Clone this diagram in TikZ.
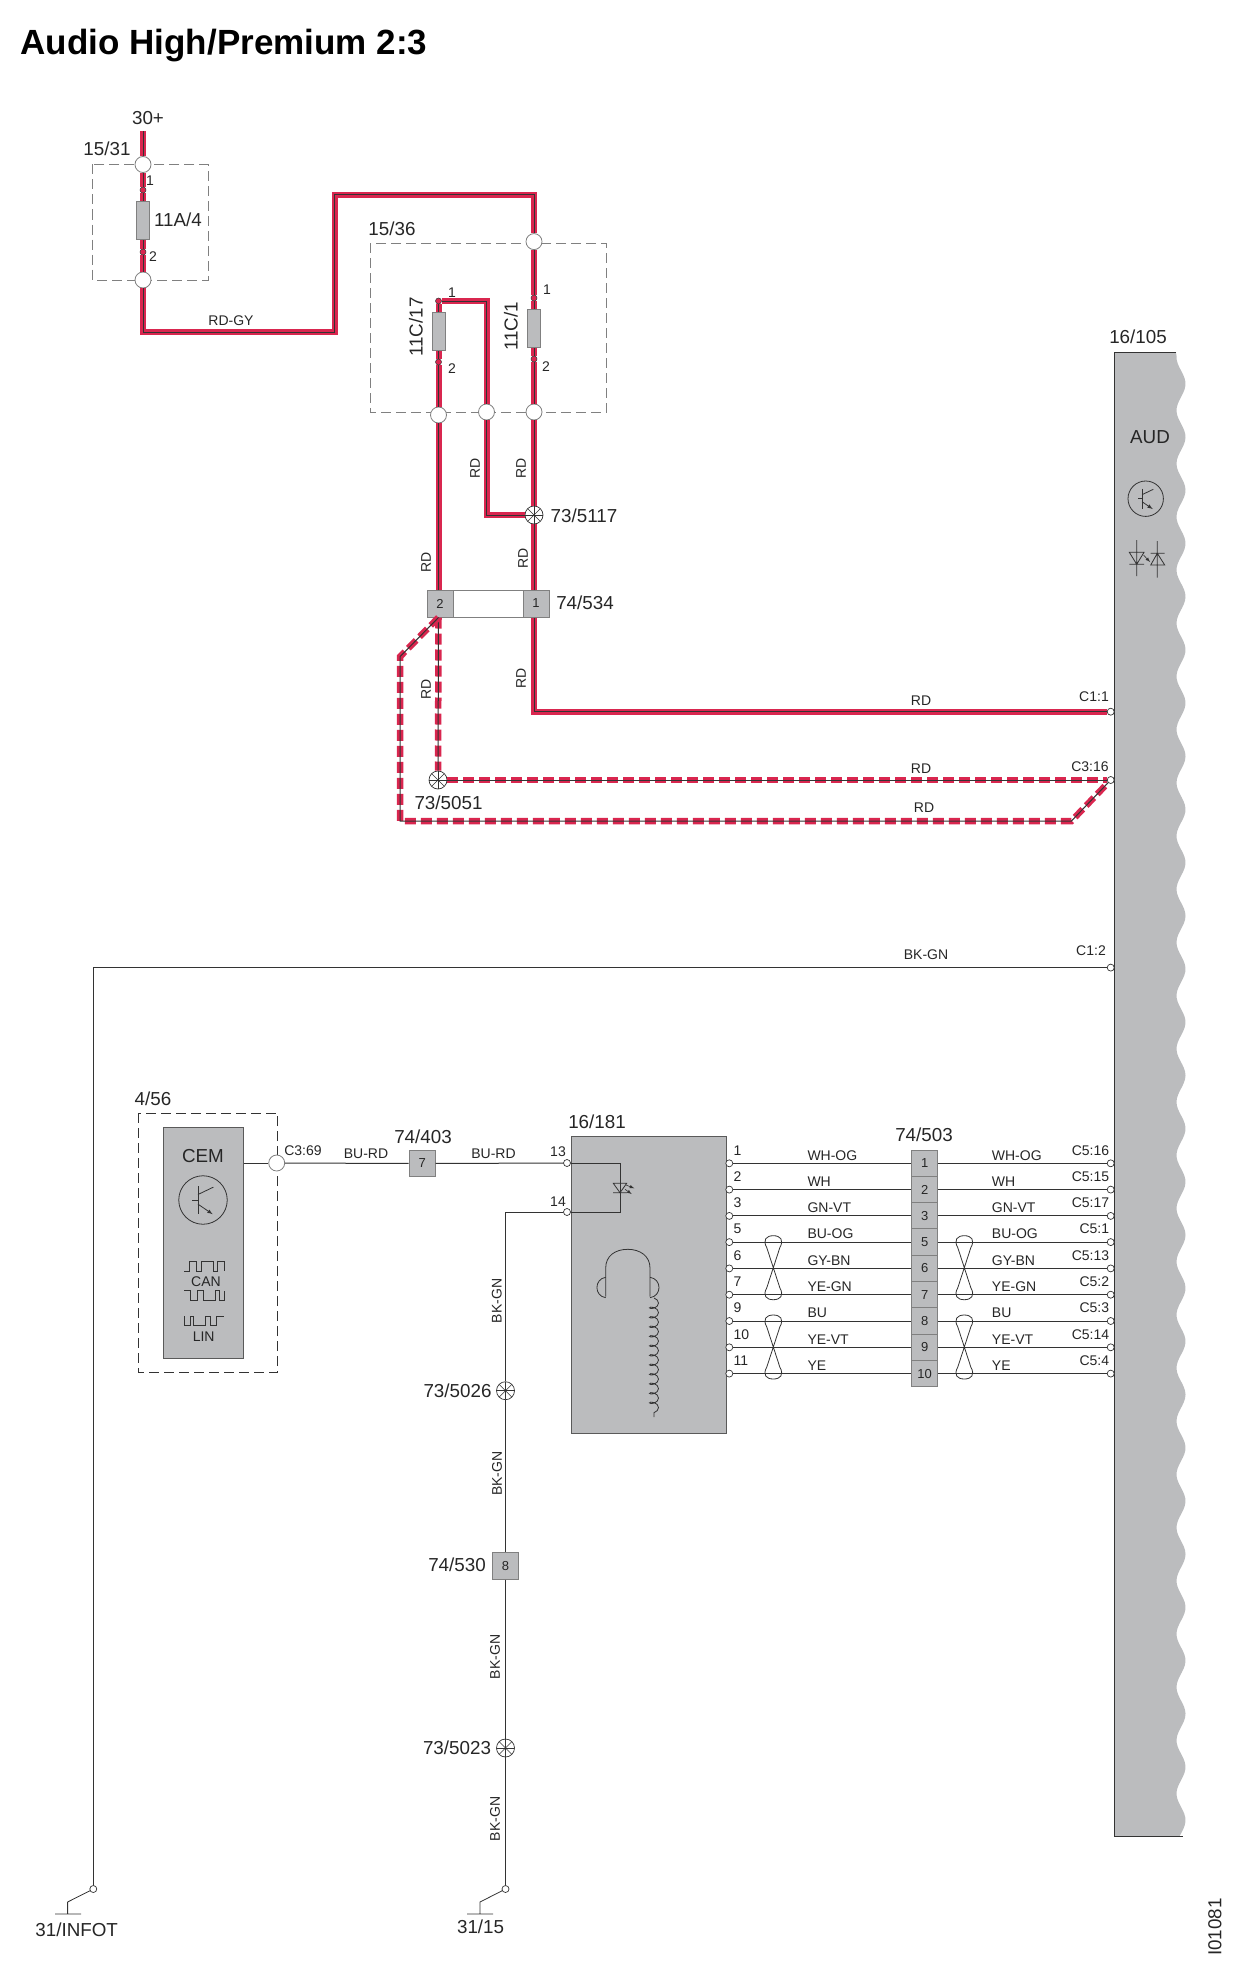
\documentclass[tikz,border=0pt]{standalone}
\usepackage{fontspec}
\usepackage{tikz}
\usetikzlibrary{decorations.pathmorphing}
\setmainfont{Liberation Sans}

\definecolor{wirered}{HTML}{D9264F}
\definecolor{wiredark}{HTML}{333333}
\definecolor{blockgray}{HTML}{BBBCBE}
\definecolor{framegray}{HTML}{808080}

\tikzset{
	lab/.style={font=\fontsize{14}{16}\selectfont, text=black!85, inner sep=0pt},
	biglab/.style={font=\fontsize{18.8}{20}\selectfont, text=black!85, inner sep=0pt},
	thinwire/.style={draw=wiredark, line width=1pt},
	symline/.style={draw=wiredark, line width=0.8pt},
	redwire/.style={draw=wiredark, line width=1pt, preaction={draw=wirered, line width=6pt}},
	reddash/.style={draw=wiredark, line width=1pt, preaction={draw=wirered, line width=6.5pt, dash pattern=on 11pt off 5pt}},
	portcirc/.style={circle, draw=framegray, fill=white, line width=0.8pt, minimum size=16pt, inner sep=0pt},
	termcirc/.style={circle, draw=wiredark, fill=white, line width=0.7pt, minimum size=7pt, inner sep=0pt},
	fusedot/.style={circle, draw=wiredark, fill=wirered, line width=0.5pt, minimum size=6pt, inner sep=0pt},
	fusebox/.style={draw=framegray, fill=blockgray, line width=0.8pt, minimum width=13pt, minimum height=38pt, inner sep=0pt},
	pinbox/.style={draw=framegray, fill=blockgray, line width=1pt, minimum width=26pt, minimum height=26.3pt, inner sep=0pt, font=\fontsize{13}{15}\selectfont, text=black!85},
	block/.style={draw=framegray!70!black, fill=blockgray, line width=1pt, inner sep=0pt},
	dashbox/.style={draw=framegray, line width=0.9pt, dash pattern=on 10pt off 5pt},
	splice/.style={circle, draw=wiredark, fill=white, line width=0.7pt, minimum size=18pt, inner sep=0pt,
		path picture={\foreach \ang in {0,45,90,135}{\draw[wiredark, line width=0.5pt] (path picture bounding box.center) ++(\ang:9pt) -- ++(\ang+180:18pt);}}},
	tranpic/.pic={
		\draw[symline] (0,0) circle [radius=17.7pt];
		\draw[symline] (-3.7,-10) -- (-3.7,10);
		\draw[symline] (-7.7,0) -- (-3.7,0);
		\draw[symline] (-3.7,-4) -- (7.6,-9.4);
		\draw[symline, -latex] (-3.7,3) -- (7,10.3);
	},
	twistpic/.pic={
		\draw[symline] (0,0) -- (-6.5,-20) .. controls (-11,-28) and (-7,-32) .. (0,-32) .. controls (7,-32) and (11,-28) .. (6.5,-20) -- (0,0) -- (-6.5,20) .. controls (-11,28) and (-7,32) .. (0,32) .. controls (7,32) and (11,28) .. (6.5,20) -- cycle;
	},
}

\begin{document}
\begin{tikzpicture}[x=1pt, y=-1pt]
	\useasboundingbox (0,0) rectangle (1242,1980);
	\node[anchor=base west, inner sep=0pt, font=\fontsize{35}{40}\selectfont\bfseries] (title) at (20.5,55) {Audio High/Premium 2:3};

	% module at the right edge
	\fill[blockgray] (1114.3,352.7) -- (1176,352.7) -- plot[domain=356:1836, samples=400] ({1181+4.5*cos(6.767*(\x-437))},\x) -- (1114.3,1836) -- cycle;
	\draw[thinwire] (1176,352.7) -- (1114.3,352.7) -- (1114.3,1836) -- (1183,1836);
	\node[biglab] (lb105) at (1138,337) {16/105};
	\node[biglab] (lbaud) at (1150,437) {AUD};
	\pic at (1145.7,498.7) {tranpic};
	\draw[symline] (1136.7,540) -- (1136.7,576) (1129.3,564.3) -- (1144,564.3) (1129.3,552.3) -- (1144,552.3) -- (1136.7,564.3) -- cycle;
	\draw[symline] (1157.3,541) -- (1157.3,577.7) (1150.7,553.3) -- (1164.7,553.3) (1150.7,565) -- (1164.7,565) -- (1157.3,553.3) -- cycle;
	\draw[symline, line width=0.6pt, ->, >=latex] (1143.5,555) -- (1150,562);

	% fuse boxes
	\draw[dashbox] (92.6,164.5) rectangle (208,280);
	\draw[dashbox] (370,243) rectangle (606.5,412);
	\node[biglab] (lb1531) at (107,149) {15/31};
	\node[biglab] (lb1536) at (392,228.6) {15/36};
	\node[biglab] (lb30) at (148,118) {30+};
	\node[biglab] (lbfa) at (178,219.6) {11A/4};
	\node[biglab, rotate=90] (lbfl) at (416,327) {11C/17};
	\node[biglab, rotate=90] (lbfr) at (511,326.5) {11C/1};
	\node[lab] (lbp1) at (150,181) {1};
	\node[lab] (lbp2) at (153,257) {2};
	\node[lab] (lbp3) at (452,293) {1};
	\node[lab] (lbp4) at (452,369) {2};
	\node[lab] (lbp5) at (547,290) {1};
	\node[lab] (lbp6) at (546,366.5) {2};

	\coordinate (vtop) at (143,131);
	\node[portcirc] (ca1) at (143,164.5) {};
	\node[portcirc] (ca2) at (143,280) {};
	\node[portcirc] (cb1) at (534,241.6) {};
	\node[portcirc] (cb2) at (534,412) {};
	\node[portcirc] (cb3) at (486.5,412) {};
	\node[portcirc] (cb4) at (438.5,415) {};
	\node[fusedot] (fda1) at (143,190) {};
	\node[fusedot] (fda2) at (143,252) {};
	\node[fusedot] (fdl1) at (438.5,301) {};
	\node[fusedot] (fdl2) at (438.5,362) {};
	\node[fusedot] (fdr1) at (534,298) {};
	\node[fusedot] (fdr2) at (534,359) {};
	\node[splice] (sp5117) at (534,515) {};
	\node[biglab, anchor=west] (lb5117) at (550.5,516) {73/5117};
	\draw[framegray, line width=1pt] (453,590) rectangle (523,617);
	\node[pinbox, minimum height=27pt] (pin2) at (440,603.5) {2};
	\node[pinbox, minimum height=27pt] (pin1) at (536,603.5) {1};
	\node[biglab] (lb534) at (585,603) {74/534};
	\node[termcirc] (tc11) at (1110.7,711.7) {};
	\node[termcirc] (tc316) at (1110.7,780) {};
	\node[termcirc] (tc12) at (1110.7,967.6) {};
	\node[splice] (sp5051) at (438,780) {};
	\node[biglab] (lb5051) at (448.5,803) {73/5051};

	\coordinate (kinka) at (334.6,332);
	\coordinate (kinkb) at (534,195);
	\coordinate (dasha) at (400,656.7);
	\coordinate (dashb) at (400,821);
	\coordinate (dashc) at (1071.4,821);

	\draw[redwire] (vtop) -- (ca1);
	\draw[redwire] (ca1) -- (fda1) -- (fda2) -- (ca2);
	\draw[redwire] (ca2) |- (kinka) |- (kinkb) -- (cb1);
	\draw[redwire] (cb1) -- (fdr1) -- (fdr2) -- (cb2);
	\draw[redwire] (cb2) -- (sp5117) -- (sp5117 |- pin1.north);
	\draw[redwire] (fdl1) -| (cb3);
	\draw[redwire] (cb3) |- (sp5117);
	\draw[redwire] (fdl1) -- (fdl2) -- (cb4) -- (cb4 |- pin2.north);
	\draw[redwire] (sp5117 |- pin1.south) |- (tc11);
	\draw[reddash] (cb4 |- pin2.south) -- (sp5051);
	\draw[reddash] (sp5051) -- (tc316);
	\draw[reddash] (cb4 |- pin2.south) -- (dasha) -- (dashb) -- (dashc) -- (tc316);
	\node[fusebox] (fusea) at (142.7,220.5) {};
	\node[fusebox] (fusel) at (438.5,331) {};
	\node[fusebox] (fuser) at (534,328) {};

	\node[lab] (lbrg) at (231,321) {RD-GY};
	\node[lab, rotate=90] (lbr1) at (475,468) {RD};
	\node[lab, rotate=90] (lbr2) at (521,468) {RD};
	\node[lab, rotate=90] (lbr3) at (426,562) {RD};
	\node[lab, rotate=90] (lbr4) at (523,558) {RD};
	\node[lab, rotate=90] (lbr5) at (426,689) {RD};
	\node[lab, rotate=90] (lbr6) at (521,678) {RD};
	\node[lab] (lbr7) at (921,701) {RD};
	\node[lab] (lbr8) at (921,769) {RD};
	\node[lab] (lbr9) at (924,808) {RD};
	\node[lab] (lbc11) at (1094,697) {C1:1};
	\node[lab] (lbc316) at (1090,767) {C3:16};
	\node[lab] (lbc12) at (1091,951) {C1:2};
	\node[lab] (lbbg1) at (926,955) {BK-GN};

	% ground side
	\node[termcirc] (tginf) at (93.3,1889) {};
	\node[termcirc] (tg15) at (505.5,1889) {};
	\draw[thinwire] (tc12) -| (tginf);
	\draw[symline] (tginf) -- (67.6,1902) -- (67.6,1914) (55,1914) -- (81,1914);
	\draw[symline] (tg15) -- (480,1902) -- (480,1914) (467,1914) -- (493,1914);
	\node[biglab] (lbinf) at (76.7,1930) {31/INFOT};
	\node[biglab] (lb3115) at (480.6,1927) {31/15};
	\node[biglab, rotate=90] (lbid) at (1215,1927) {I01081};

	% CEM
	\draw[dashbox, draw=wiredark] (138.8,1113) rectangle (277.5,1372.7);
	\node[biglab] (lb456) at (153,1099) {4/56};
	\node[block, minimum width=80pt, minimum height=231pt] (cem) at (203,1242.5) {};
	\node[biglab] (lbcem) at (203,1155.7) {CEM};
	\pic[scale=1.37] at (203,1200) {tranpic};
	\draw[symline] (184,1271.3) -- (189.3,1271.3) -- (189.3,1261.3) -- (196,1261.3) -- (196,1271.3) -- (201.7,1271.3) -- (201.7,1261.3) -- (213.3,1261.3) -- (213.3,1271.3) -- (217.3,1271.3) -- (217.3,1261.3) -- (224,1261.3) -- (224,1271.3);
	\draw[symline] (184,1290.7) -- (190.7,1290.7) -- (190.7,1300) -- (197.3,1300) -- (197.3,1290.7) -- (203.3,1290.7) -- (203.3,1300) -- (215,1300) -- (215,1290.7) -- (219.3,1290.7) -- (219.3,1300) -- (224,1300) -- (224,1290.7);
	\draw[symline] (184,1316) -- (184,1325) -- (190,1325) -- (190,1316) -- (193.3,1316) -- (193.3,1325) -- (205,1325) -- (205,1316) -- (210,1316) -- (210,1325) -- (216,1325) -- (216,1316) -- (224,1316);
	\node[lab] (lbcan) at (206,1281.7) {CAN};
	\node[lab] (lblin) at (203.7,1336.7) {LIN};

	% radio unit
	\node[block, minimum width=155.5pt, minimum height=297pt] (unit) at (648.8,1284.5) {};
	\node[biglab] (lb181) at (597,1121.7) {16/181};
	\node[portcirc] (c369) at (276.7,1163) {};
	\node[pinbox] (pin7) at (422.2,1163.5) {7};
	\node[biglab] (lb403) at (423,1136.7) {74/403};
	\node[termcirc] (t13) at (567,1163) {};
	\node[termcirc] (t14) at (567,1212) {};
	\coordinate (ledcorner) at (620,1212);
	\draw[thinwire] (cem.east |- c369) -- (c369);
	\draw[thinwire] (c369) -- (pin7);
	\draw[thinwire] (pin7) -- (t13);
	\draw[thinwire] (t13) -| (ledcorner) -- (t14);
	\draw[symline] (613.3,1183.3) -- (626.7,1183.3) -- (620,1192.7) -- cycle (613,1192.7) -- (627,1192.7);
	\draw[symline, line width=0.6pt, ->, >=latex] (626,1185) -- (634.3,1188.3);
	\draw[symline, line width=0.6pt, ->, >=latex] (625,1189.3) -- (631.7,1194);
	\node[lab] (lbc369) at (303,1150.7) {C3:69};
	\node[lab] (lbbr1) at (366,1154) {BU-RD};
	\node[lab] (lbbr2) at (493.5,1154) {BU-RD};
	\node[lab] (lb13) at (558,1152) {13};
	\node[lab] (lb14) at (558,1202) {14};

	% headphones
	\draw[symline] (605.7,1296.7) -- (605.7,1268) .. controls (605.7,1256) and (615,1249.3) .. (627.8,1249.3) .. controls (640,1249.3) and (650,1256) .. (650,1268) -- (650,1296.7);
	\draw[symline] (605.7,1277.3) .. controls (594,1279) and (594,1296) .. (605.7,1297.7);
	\draw[symline] (650,1277.3) .. controls (662,1279) and (662,1296) .. (650,1297.7);
	\draw[symline, decorate, decoration={coil, aspect=0.6, segment length=9.5pt, amplitude=4.5pt}] (654,1298) -- (654,1417);

	% wire to ground
	\node[splice] (sp5026) at (505.5,1390.7) {};
	\node[pinbox] (pin8) at (505.5,1566) {8};
	\node[splice] (sp5023) at (505.5,1748) {};
	\draw[thinwire] (t14) -| (sp5026);
	\draw[thinwire] (sp5026) -- (pin8);
	\draw[thinwire] (pin8) -- (sp5023);
	\draw[thinwire] (sp5023) -- (tg15);
	\node[biglab] (lb5026) at (457.5,1391) {73/5026};
	\node[biglab] (lb530) at (457,1565) {74/530};
	\node[biglab] (lb5023) at (457,1748) {73/5023};
	\node[lab, rotate=90] (lbbg2) at (496.7,1301) {BK-GN};
	\node[lab, rotate=90] (lbbg3) at (497,1473.5) {BK-GN};
	\node[lab, rotate=90] (lbbg4) at (495,1657) {BK-GN};
	\node[lab, rotate=90] (lbbg5) at (495,1819) {BK-GN};

	% connector 74/503 and its wires
	\node[biglab] (lb503) at (924,1135) {74/503};
	\foreach \yy/\pinl/\cell/\wlab/\conn [count=\i] in {1163.3/1/1/WH-OG/C5:16, 1189.6/2/2/WH/C5:15, 1215.9/3/3/GN-VT/C5:17, 1242.1/5/5/BU-OG/C5:1, 1268.4/6/6/GY-BN/C5:13, 1294.7/7/7/YE-GN/C5:2, 1321/9/8/BU/C5:3, 1347.3/10/9/YE-VT/C5:14, 1373.6/11/10/YE/C5:4}{
		\node[pinbox] (cell\i) at (924.7,\yy) {\cell};
		\node[termcirc] (tl\i) at (729.3,\yy) {};
		\node[termcirc] (tr\i) at (1110.7,\yy) {};
		\draw[thinwire] (tl\i) -- (cell\i);
		\draw[thinwire] (cell\i) -- (tr\i);
		\node[lab, anchor=west] (lbpin\i) at (733.5,\yy-13) {\pinl};
		\node[lab, anchor=west] (lbwl\i) at (807.3,\yy-8) {\wlab};
		\node[lab, anchor=west] (lbwr\i) at (991.7,\yy-8) {\wlab};
		\node[lab, anchor=east] (lbcon\i) at (1109.3,\yy-13) {\conn};
	}
	\pic at (773.3,1267.7) {twistpic};
	\pic at (964.3,1267.7) {twistpic};
	\pic at (773.3,1347) {twistpic};
	\pic at (964.3,1347) {twistpic};
\end{tikzpicture}
\end{document}
